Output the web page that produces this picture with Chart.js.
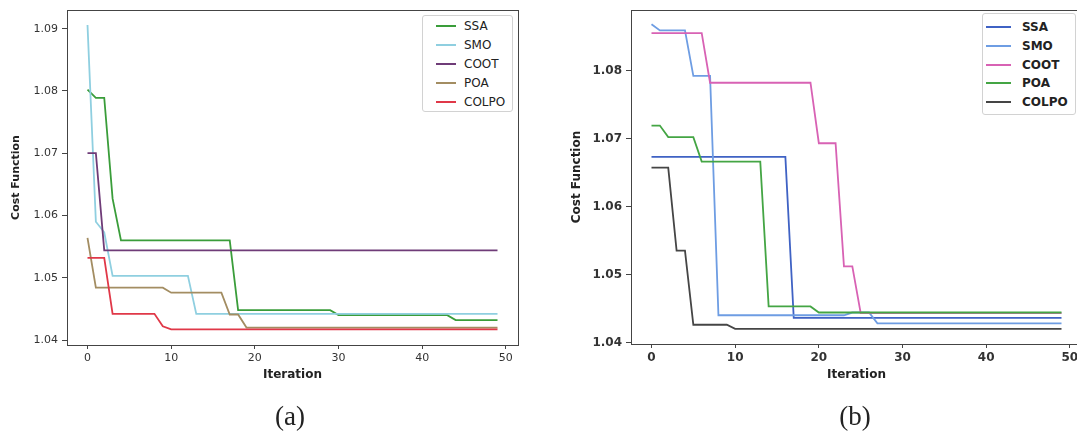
<!DOCTYPE html>
<html><head><meta charset="utf-8">
<script src="https://cdn.jsdelivr.net/npm/chart.js@4.4.1/dist/chart.umd.min.js"></script>
<style>
html,body{margin:0;padding:0;background:#fff;overflow:hidden}
#wrap{position:relative;width:1077px;height:435px;overflow:hidden;background:#fff}
#c1{position:absolute;left:0;top:0;width:540px;height:435px}
#c2{position:absolute;left:540px;top:0;width:560px;height:435px}
.legend{position:absolute;background:#fff;border:1px solid #d2d2d2;border-radius:3px;box-sizing:border-box;font-family:"DejaVu Sans";color:#222}
.legend .row{position:absolute;left:0;white-space:nowrap;line-height:14px;height:14px}
.legend .sw{position:absolute;top:6px;height:2px}
.legend .tx{position:absolute;top:0}
.cap{position:absolute;font-family:"Liberation Serif";font-size:27px;color:#222;transform:translateX(-50%);line-height:30px}
</style></head>
<body><div id="wrap">
<canvas id="c1" width="540" height="435"></canvas>
<canvas id="c2" width="560" height="435"></canvas>
<div id="lg1" class="legend"></div>
<div id="lg2" class="legend"></div>
<div class="cap" style="left:290px;top:401px">(a)</div>
<div class="cap" style="left:855px;top:401px">(b)</div>
</div>
<script>
// ---------- data ----------
const iterations = [0,1,2,3,4,5,6,7,8,9,10,11,12,13,14,15,16,17,18,19,20,21,22,23,24,25,26,27,28,29,30,31,32,33,34,35,36,37,38,39,40,41,42,43,44,45,46,47,48,49];
const seriesNames = ['SSA','SMO','COOT','POA','COLPO'];
const xTickValues = [0,10,20,30,40,50];
const yTicksA = [1.04,1.05,1.06,1.07,1.08,1.09];
const yTicksB = [1.04,1.05,1.06,1.07,1.08];

// panel (a)
const ssaA = [1.0802,1.0789,1.0789,1.0627,1.0560,1.0560,1.0560,1.0560,1.0560,1.0560,
              1.0560,1.0560,1.0560,1.0560,1.0560,1.0560,1.0560,1.0560,1.0448,1.0448,
              1.0448,1.0448,1.0448,1.0448,1.0448,1.0448,1.0448,1.0448,1.0448,1.0448,
              1.0440,1.0440,1.0440,1.0440,1.0440,1.0440,1.0440,1.0440,1.0440,1.0440,
              1.0440,1.0440,1.0440,1.0440,1.0432,1.0432,1.0432,1.0432,1.0432,1.0432];
const smoA = [1.0906,1.0590,1.0573,1.0503,1.0503,1.0503,1.0503,1.0503,1.0503,1.0503,
              1.0503,1.0503,1.0503,1.0442,1.0442,1.0442,1.0442,1.0442,1.0442,1.0442,
              1.0442,1.0442,1.0442,1.0442,1.0442,1.0442,1.0442,1.0442,1.0442,1.0442,
              1.0442,1.0442,1.0442,1.0442,1.0442,1.0442,1.0442,1.0442,1.0442,1.0442,
              1.0442,1.0442,1.0442,1.0442,1.0442,1.0442,1.0442,1.0442,1.0442,1.0442];
const cootA = [1.0700,1.0700,1.0544,1.0544,1.0544,1.0544,1.0544,1.0544,1.0544,1.0544,
               1.0544,1.0544,1.0544,1.0544,1.0544,1.0544,1.0544,1.0544,1.0544,1.0544,
               1.0544,1.0544,1.0544,1.0544,1.0544,1.0544,1.0544,1.0544,1.0544,1.0544,
               1.0544,1.0544,1.0544,1.0544,1.0544,1.0544,1.0544,1.0544,1.0544,1.0544,
               1.0544,1.0544,1.0544,1.0544,1.0544,1.0544,1.0544,1.0544,1.0544,1.0544];
const poaA = [1.0564,1.0484,1.0484,1.0484,1.0484,1.0484,1.0484,1.0484,1.0484,1.0484,
              1.0476,1.0476,1.0476,1.0476,1.0476,1.0476,1.0476,1.0441,1.0441,1.0420,
              1.0420,1.0420,1.0420,1.0420,1.0420,1.0420,1.0420,1.0420,1.0420,1.0420,
              1.0420,1.0420,1.0420,1.0420,1.0420,1.0420,1.0420,1.0420,1.0420,1.0420,
              1.0420,1.0420,1.0420,1.0420,1.0420,1.0420,1.0420,1.0420,1.0420,1.0420];
const colpoA = [1.0532,1.0532,1.0532,1.0442,1.0442,1.0442,1.0442,1.0442,1.0442,1.0422,
                1.0417,1.0417,1.0417,1.0417,1.0417,1.0417,1.0417,1.0417,1.0417,1.0417,
                1.0417,1.0417,1.0417,1.0417,1.0417,1.0417,1.0417,1.0417,1.0417,1.0417,
                1.0417,1.0417,1.0417,1.0417,1.0417,1.0417,1.0417,1.0417,1.0417,1.0417,
                1.0417,1.0417,1.0417,1.0417,1.0417,1.0417,1.0417,1.0417,1.0417,1.0417];

// panel (b)
const ssaB = [1.0673,1.0673,1.0673,1.0673,1.0673,1.0673,1.0673,1.0673,1.0673,1.0673,
              1.0673,1.0673,1.0673,1.0673,1.0673,1.0673,1.0673,1.0436,1.0436,1.0436,
              1.0436,1.0436,1.0436,1.0436,1.0436,1.0436,1.0436,1.0436,1.0436,1.0436,
              1.0436,1.0436,1.0436,1.0436,1.0436,1.0436,1.0436,1.0436,1.0436,1.0436,
              1.0436,1.0436,1.0436,1.0436,1.0436,1.0436,1.0436,1.0436,1.0436,1.0436];
const smoB = [1.0868,1.0859,1.0859,1.0859,1.0859,1.0792,1.0792,1.0792,1.0440,1.0440,
              1.0440,1.0440,1.0440,1.0440,1.0440,1.0440,1.0440,1.0440,1.0440,1.0440,
              1.0440,1.0440,1.0440,1.0440,1.0444,1.0444,1.0444,1.0428,1.0428,1.0428,
              1.0428,1.0428,1.0428,1.0428,1.0428,1.0428,1.0428,1.0428,1.0428,1.0428,
              1.0428,1.0428,1.0428,1.0428,1.0428,1.0428,1.0428,1.0428,1.0428,1.0428];
const cootB = [1.0855,1.0855,1.0855,1.0855,1.0855,1.0855,1.0855,1.0782,1.0782,1.0782,
               1.0782,1.0782,1.0782,1.0782,1.0782,1.0782,1.0782,1.0782,1.0782,1.0782,
               1.0693,1.0693,1.0693,1.0512,1.0512,1.0443,1.0443,1.0443,1.0443,1.0443,
               1.0443,1.0443,1.0443,1.0443,1.0443,1.0443,1.0443,1.0443,1.0443,1.0443,
               1.0443,1.0443,1.0443,1.0443,1.0443,1.0443,1.0443,1.0443,1.0443,1.0443];
const poaB = [1.0719,1.0719,1.0702,1.0702,1.0702,1.0702,1.0666,1.0666,1.0666,1.0666,
              1.0666,1.0666,1.0666,1.0666,1.0453,1.0453,1.0453,1.0453,1.0453,1.0453,
              1.0444,1.0444,1.0444,1.0444,1.0444,1.0444,1.0444,1.0444,1.0444,1.0444,
              1.0444,1.0444,1.0444,1.0444,1.0444,1.0444,1.0444,1.0444,1.0444,1.0444,
              1.0444,1.0444,1.0444,1.0444,1.0444,1.0444,1.0444,1.0444,1.0444,1.0444];
const colpoB = [1.0657,1.0657,1.0657,1.0535,1.0535,1.0426,1.0426,1.0426,1.0426,1.0426,
                1.0420,1.0420,1.0420,1.0420,1.0420,1.0420,1.0420,1.0420,1.0420,1.0420,
                1.0420,1.0420,1.0420,1.0420,1.0420,1.0420,1.0420,1.0420,1.0420,1.0420,
                1.0420,1.0420,1.0420,1.0420,1.0420,1.0420,1.0420,1.0420,1.0420,1.0420,
                1.0420,1.0420,1.0420,1.0420,1.0420,1.0420,1.0420,1.0420,1.0420,1.0420];

const colorsA = ['#3a9d3a','#8fcfe0','#6f3c78','#a38d62','#e03848'];
const colorsB = ['#3f62c4','#6e9de3','#d862b4','#44a544','#454545'];

// ---------- chart building ----------
Chart.defaults.font.family = '"DejaVu Sans", sans-serif';
Chart.defaults.color = '#333';

const frame = {
  id: 'frame',
  afterDatasetsDraw(chart) {
    const a = chart.chartArea, ctx = chart.ctx;
    ctx.save();
    ctx.strokeStyle = '#444';
    ctx.lineWidth = 1;
    ctx.strokeRect(Math.round(a.left) + 0.5, Math.round(a.top) + 0.5,
                   Math.round(a.right - a.left), Math.round(a.bottom - a.top));
    ctx.restore();
  }
};

function makeDatasets(seriesList, colors) {
  return seriesList.map((vals, i) => ({
    label: seriesNames[i],
    data: iterations.map((x, k) => ({x: x, y: vals[k]})),
    borderColor: colors[i],
    backgroundColor: colors[i],
    borderWidth: 1.8,
    pointRadius: 0,
    tension: 0,
    fill: false,
    order: seriesList.length - i
  }));
}

function makeChart(id, datasets, cfg) {
  const tickFont = {size: cfg.tickSize, weight: cfg.tickWeight};
  return new Chart(document.getElementById(id), {
    type: 'line',
    data: {datasets: datasets},
    plugins: [frame],
    options: {
      responsive: false,
      animation: false,
      devicePixelRatio: 1,
      layout: {padding: {left: 0, top: cfg.top, right: cfg.padRight, bottom: 0}},
      plugins: {legend: {display: false}, tooltip: {enabled: false}},
      scales: {
        x: {
          type: 'linear',
          min: -2.45, max: 51.45,
          afterBuildTicks: s => { s.ticks = xTickValues.map(v => ({value: v})); },
          afterFit: s => { s.height = cfg.xHeight; s.paddingLeft = 0; s.paddingRight = 0; },
          ticks: {font: tickFont, color: '#333', padding: 3, maxRotation: 0, autoSkip: false,
                  callback: v => String(v)},
          grid: {drawOnChartArea: false, drawTicks: true, tickLength: 4, tickColor: '#444'},
          border: {display: true, color: '#444', width: 1},
          title: {display: true, text: 'Iteration', font: {size: 12, weight: 'bold'}, color: '#222',
                  padding: {top: 0, bottom: cfg.xTitlePad}}
        },
        y: {
          type: 'linear',
          min: cfg.yMin, max: cfg.yMax,
          afterBuildTicks: s => { s.ticks = cfg.yTicks.map(v => ({value: v})); },
          afterFit: s => { s.width = cfg.yWidth; s.paddingTop = 0; s.paddingBottom = 0; },
          ticks: {font: tickFont, color: '#333', padding: 4, autoSkip: false,
                  callback: v => v.toFixed(2)},
          grid: {drawOnChartArea: false, drawTicks: true, tickLength: 5, tickColor: '#444'},
          border: {display: true, color: '#444', width: 1},
          title: {display: true, text: 'Cost Function', font: {size: cfg.yTitleSize, weight: 'bold'}, color: '#222',
                  padding: {top: cfg.yTitlePad, bottom: 0}}
        }
      }
    }
  });
}

const chartA = makeChart('c1', makeDatasets([ssaA, smoA, cootA, poaA, colpoA], colorsA), {
  top: 10, padRight: 22, xHeight: 90, yWidth: 67,
  yMin: 1.0392, yMax: 1.0930, yTicks: yTicksA,
  tickSize: 11, tickWeight: 'normal', xTitlePad: 53, yTitlePad: 10, yTitleSize: 11
});
const chartB = makeChart('c2', makeDatasets([ssaB, smoB, cootB, poaB, colpoB], colorsB), {
  top: 10, padRight: 18, xHeight: 91, yWidth: 91,
  yMin: 1.03977, yMax: 1.08890, yTicks: yTicksB,
  tickSize: 12, tickWeight: 'bold', xTitlePad: 53, yTitlePad: 30, yTitleSize: 12
});

// ---------- legends (built from the chart datasets) ----------
function buildLegend(chart, el, cfg) {
  el.style.left = cfg.left + 'px';
  el.style.top = cfg.top + 'px';
  el.style.width = cfg.width + 'px';
  el.style.height = cfg.height + 'px';
  el.style.fontSize = cfg.fontSize + 'px';
  el.style.fontWeight = cfg.weight;
  chart.data.datasets.forEach((ds, i) => {
    const row = document.createElement('div');
    row.className = 'row';
    row.style.top = (cfg.firstRow + i * cfg.rowGap - 7) + 'px';
    const sw = document.createElement('div');
    sw.className = 'sw';
    sw.style.left = cfg.swLeft + 'px';
    sw.style.width = cfg.swLen + 'px';
    sw.style.background = ds.borderColor;
    const tx = document.createElement('span');
    tx.className = 'tx';
    tx.style.left = cfg.txLeft + 'px';
    tx.textContent = ds.label;
    row.appendChild(sw); row.appendChild(tx);
    el.appendChild(row);
  });
}
buildLegend(chartA, document.getElementById('lg1'), {
  left: 422, top: 15, width: 91, height: 97, fontSize: 12, weight: 'normal',
  firstRow: 10, rowGap: 19, swLeft: 13, swLen: 20, txLeft: 41
});
buildLegend(chartB, document.getElementById('lg2'), {
  left: 982, top: 13, width: 94, height: 102, fontSize: 12, weight: 'bold',
  firstRow: 13, rowGap: 18.8, swLeft: 3, swLen: 25, txLeft: 39
});
</script>
</body></html>
